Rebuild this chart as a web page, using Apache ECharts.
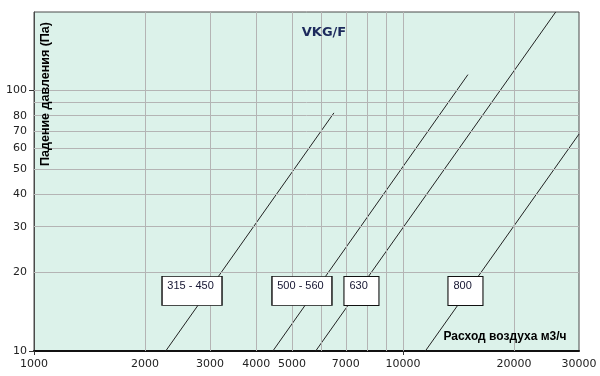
<!DOCTYPE html>
<html>
<head>
<meta charset="utf-8">
<script src="https://cdn.jsdelivr.net/npm/echarts@6/dist/echarts.min.js"></script>
<style>
  html, body { margin: 0; padding: 0; background: #fff; }
  #chart { width: 600px; height: 376px; }
</style>
</head>
<body>
<div id="chart"></div>
<script>
// duct sizes and their pressure-drop lines (flow m3/h -> Pa)
const sizes = ['315 - 450', '500 - 560', '630', '800'];
const flowStart = [2275, 4440, 5800, 11500];
const flowEnd = [6500, 15000, 25940, 30000];
const dropStart = [10, 10, 10, 10];
const dropEnd = [82, 115, 200, 68];

// where the size boxes sit
const boxFlow = [2681, 5324, 7718, 14771];
const boxDrop = [17, 17, 17, 17];

// grid lines and tick labels
const xGrid = [2000, 3000, 4000, 5000, 6000, 7000, 8000, 9000, 10000, 20000];
const xLabels = [1000, 2000, 3000, 4000, 5000, 7000, 10000, 20000, 30000];
const yGrid = [20, 30, 40, 50, 60, 70, 80, 90, 100];
const yLabels = [10, 20, 30, 40, 50, 60, 70, 80, 100];
const xTicks = [1000, 10000];
const yTicks = [10, 100];

const gridColor = '#b4b4b4';
const labelFont = { color: '#222', fontSize: 11, fontFamily: 'DejaVu Sans' };

let myChart = echarts.init(document.getElementById('chart'));

let xAll = Array.from(new Set(xGrid.concat(xLabels))).sort((a, b) => a - b);
let yAll = Array.from(new Set(yGrid.concat(yLabels))).sort((a, b) => a - b);

let gridLines = [];
xAll.forEach(v => {
    gridLines.push({
        xAxis: v,
        name: String(v),
        lineStyle: { color: xGrid.indexOf(v) >= 0 ? gridColor : 'rgba(0,0,0,0)' },
        label: { show: xLabels.indexOf(v) >= 0, position: 'start', distance: 8 }
    });
});
yAll.forEach(v => {
    gridLines.push({
        yAxis: v,
        name: String(v),
        lineStyle: { color: yGrid.indexOf(v) >= 0 ? gridColor : 'rgba(0,0,0,0)' },
        label: { show: yLabels.indexOf(v) >= 0, position: 'start', distance: 7 }
    });
});

let series = [{
    type: 'line',
    name: 'grid',
    data: [],
    z: 1,
    silent: true,
    markLine: {
        silent: true,
        symbol: ['none', 'none'],
        animation: false,
        lineStyle: { type: 'solid', width: 1, color: gridColor },
        label: Object.assign({ formatter: '{b}' }, labelFont),
        emphasis: { disabled: true },
        data: gridLines
    }
}];

sizes.forEach((s, i) => {
    series.push({
        type: 'line',
        name: s,
        z: 3,
        symbol: 'none',
        lineStyle: { color: '#222', width: 1 },
        data: [[flowStart[i], dropStart[i]], [flowEnd[i], dropEnd[i]]]
    });
});

series.push({
    type: 'scatter',
    name: 'boxes',
    z: 5,
    silent: true,
    symbol: 'rect',
    itemStyle: { color: '#fff', borderColor: '#111', borderWidth: 1, opacity: 1 },
    data: sizes.map((s, i) => ({
        value: [boxFlow[i], boxDrop[i]],
        name: s,
        symbolSize: s.length > 4 ? [60, 29] : [35, 29]
    })),
    label: {
        show: true,
        formatter: '{b}',
        position: [6, 4],
        align: 'left',
        verticalAlign: 'top',
        color: '#141430',
        fontSize: 11,
        fontFamily: 'Liberation Sans'
    }
});

myChart.setOption({
    animation: false,
    backgroundColor: '#fff',
    grid: {
        left: 34,
        right: 21,
        top: 12,
        bottom: 25,
        show: true,
        backgroundColor: '#dcf2ea',
        borderColor: '#4a4a4a',
        borderWidth: 1
    },
    xAxis: {
        type: 'log',
        logBase: 10,
        min: 1000,
        max: 30000,
        axisLine: { show: true, lineStyle: { color: '#111', width: 2 } },
        axisTick: { show: true, length: 4, customValues: xTicks, lineStyle: { color: '#333' } },
        axisLabel: { show: false },
        splitLine: { show: false },
        minorSplitLine: { show: false }
    },
    yAxis: {
        type: 'log',
        logBase: 10,
        min: 10,
        max: 200,
        axisLine: { show: true, lineStyle: { color: '#4a4a4a', width: 1 } },
        axisTick: { show: true, length: 5, customValues: yTicks, lineStyle: { color: '#333' } },
        axisLabel: { show: false },
        splitLine: { show: false },
        minorSplitLine: { show: false }
    },
    graphic: [{
        type: 'text',
        x: 324,
        y: 33,
        z: 10,
        style: {
            text: 'VKG/F',
            fill: '#1c2a5c',
            font: 'bold 13px "DejaVu Sans"',
            align: 'center',
            verticalAlign: 'middle'
        }
    }, {
        type: 'text',
        x: 46,
        y: 94,
        rotation: Math.PI / 2,
        z: 10,
        style: {
            text: 'Падение давления (Па)',
            fill: '#000',
            font: 'bold 12.5px "Liberation Sans"',
            align: 'center',
            verticalAlign: 'middle'
        }
    }, {
        type: 'text',
        x: 505,
        y: 337,
        z: 10,
        style: {
            text: 'Расход воздуха м3/ч',
            fill: '#000',
            font: 'bold 12px "Liberation Sans"',
            align: 'center',
            verticalAlign: 'middle'
        }
    }],
    series: series
});
</script>
</body>
</html>
